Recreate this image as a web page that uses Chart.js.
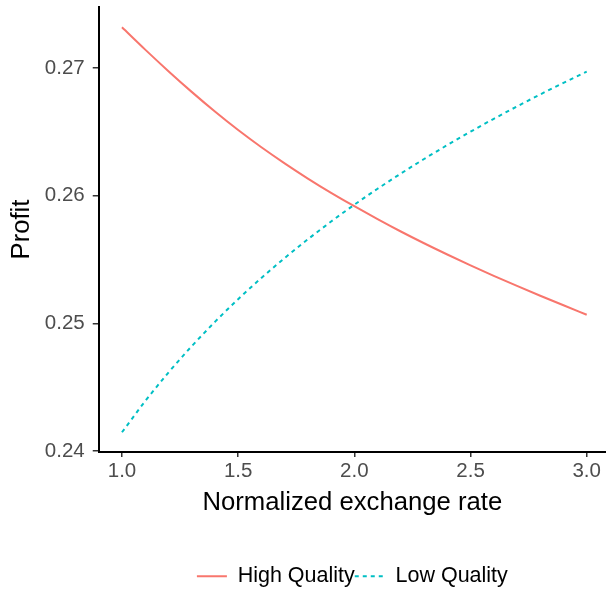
<!DOCTYPE html>
<html>
<head>
<meta charset="utf-8">
<script src="https://cdn.jsdelivr.net/npm/chart.js@4.4.1/dist/chart.umd.min.js"></script>
<style>
  html, body { margin: 0; padding: 0; background: #fff; overflow: hidden; }
  #wrap { width: 606px; height: 590px; }
</style>
</head>
<body>
<div id="wrap"><canvas id="chart" width="606" height="590"></canvas></div>
<script>
// values
const rates = [1.0, 1.1, 1.2, 1.3, 1.4, 1.5, 1.6, 1.7, 1.8, 1.9, 2.0,
               2.1, 2.2, 2.3, 2.4, 2.5, 2.6, 2.7, 2.8, 2.9, 3.0];
const highQuality = [0.27320, 0.27145, 0.26976, 0.26814, 0.26660, 0.26515, 0.26380,
                     0.26254, 0.26135, 0.26023, 0.25918, 0.25817, 0.25720, 0.25628,
                     0.25540, 0.25455, 0.25373, 0.25294, 0.25217, 0.25142, 0.25068];
const lowQuality = [0.24147, 0.24391, 0.24615, 0.24821, 0.25012, 0.25190, 0.25356,
                    0.25512, 0.25659, 0.25798, 0.25930, 0.26055, 0.26174, 0.26288,
                    0.26397, 0.26502, 0.26603, 0.26700, 0.26794, 0.26885, 0.26973];
const xTicks = [1.0, 1.5, 2.0, 2.5, 3.0];
const yTicks = [0.24, 0.25, 0.26, 0.27];

const FONT = "'Liberation Sans', Arial, Helvetica, sans-serif";

function toPoints(ys) {
  return rates.map((x, i) => ({ x: x, y: ys[i] }));
}

// keep the dash pattern of each line in its legend sample
function legendLabels(chart) {
  const items = Chart.defaults.plugins.legend.labels.generateLabels(chart);
  items.forEach((it) => {
    it.lineDash = chart.data.datasets[it.datasetIndex].borderDash || [];
  });
  return items;
}

const ctx = document.getElementById("chart").getContext("2d");
new Chart(ctx, {
  type: "line",
  data: {
    datasets: [
      {
        label: "High Quality",
        data: toPoints(highQuality),
        borderColor: "#F8766D",
        backgroundColor: "#F8766D",
        borderWidth: 2,
        pointRadius: 0,
        cubicInterpolationMode: "monotone",
        fill: false,
      },
      {
        label: "Low Quality",
        data: toPoints(lowQuality),
        borderColor: "#00BFC4",
        backgroundColor: "#00BFC4",
        borderWidth: 2,
        borderDash: [4, 4],
        pointRadius: 0,
        cubicInterpolationMode: "monotone",
        fill: false,
      },
    ],
  },
  options: {
    responsive: false,
    animation: false,
    layout: { padding: { top: 7, left: 0, right: 0, bottom: -7 } },
    plugins: {
      tooltip: { enabled: false },
      legend: {
        position: "bottom",
        fullSize: false,
        labels: {
          usePointStyle: true,
          pointStyle: "line",
          pointStyleWidth: 30,
          padding: 0,
          color: "#000",
          font: { family: FONT, size: 21.5 },
          generateLabels: legendLabels,
        },
      },
    },
    scales: {
      x: {
        type: "linear",
        min: 0.9,
        max: 3.083,
        afterBuildTicks: (s) => { s.ticks = xTicks.map((v) => ({ value: v })); },
        afterFit: (s) => { s.paddingLeft = 0; s.paddingRight = 0; },
        border: { display: true, color: "#000", width: 2 },
        grid: { drawOnChartArea: false, tickLength: 5, color: "#333", lineWidth: 1.5 },
        ticks: {
          color: "#4D4D4D",
          padding: 2,
          font: { family: FONT, size: 20.5 },
          callback: (v) => Number(v).toFixed(1),
        },
        title: {
          display: true,
          text: "Normalized exchange rate",
          color: "#000",
          font: { family: FONT, size: 25.7 },
          padding: { top: 2, bottom: 47 },
        },
      },
      y: {
        type: "linear",
        min: 0.23992,
        max: 0.27479,
        afterBuildTicks: (s) => { s.ticks = yTicks.map((v) => ({ value: v })); },
        afterFit: (s) => { s.paddingTop = 0; s.paddingBottom = 0; },
        border: { display: true, color: "#000", width: 2 },
        grid: { drawOnChartArea: false, tickLength: 6, color: "#333", lineWidth: 1.5 },
        ticks: {
          color: "#4D4D4D",
          padding: 8,
          font: { family: FONT, size: 20.5 },
          callback: (v) => Number(v).toFixed(2),
        },
        title: {
          display: true,
          text: "Profit",
          color: "#000",
          font: { family: FONT, size: 25.7 },
          padding: { top: 6, bottom: 0 },
        },
      },
    },
  },
});
</script>
</body>
</html>
